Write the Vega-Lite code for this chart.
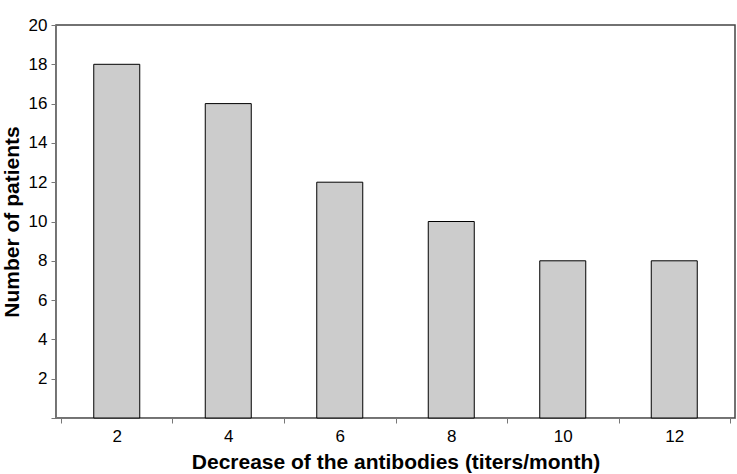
{
  "$schema": "https://vega.github.io/schema/vega-lite/v6.json",
  "width": 679,
  "height": 393,
  "autosize": {"type": "none"},
  "padding": {"left": 56, "top": 25, "right": 2, "bottom": 56},
  "background": "white",
  "config": {
    "font": "Liberation Sans",
    "view": {"stroke": "#444444", "strokeWidth": 1.5}
  },
  "data": {
    "values": [
      {"decrease": 2, "patients": 18},
      {"decrease": 4, "patients": 16},
      {"decrease": 6, "patients": 12},
      {"decrease": 8, "patients": 10},
      {"decrease": 10, "patients": 8},
      {"decrease": 12, "patients": 8}
    ]
  },
  "mark": {"type": "bar", "size": 46, "fill": "#cccccc", "stroke": "#000000", "strokeWidth": 1},
  "encoding": {
    "x": {
      "field": "decrease",
      "type": "quantitative",
      "scale": {"domain": [1, 13], "nice": false, "zero": false},
      "axis": {
        "values": [1, 2, 3, 4, 5, 6, 7, 8, 9, 10, 11, 12, 13],
        "labelExpr": "datum.value % 2 == 0 ? datum.label : ''",
        "tickOpacity": {"condition": {"test": "datum.value % 2 == 0", "value": 0}, "value": 1},
        "grid": false,
        "domainColor": "#777777",
        "tickColor": "#777777",
        "tickSize": 5,
        "labelFontSize": 17,
        "labelColor": "#000000",
        "labelPadding": 5,
        "labelFlush": false,
        "labelOverlap": false,
        "title": "Decrease of the antibodies (titers/month)",
        "titleFontSize": 21,
        "titleFontWeight": "bold",
        "titleColor": "#000000",
        "titlePadding": 7
      }
    },
    "y": {
      "field": "patients",
      "type": "quantitative",
      "scale": {"domain": [0, 20], "nice": false},
      "axis": {
        "values": [0, 2, 4, 6, 8, 10, 12, 14, 16, 18, 20],
        "labelExpr": "datum.value == 0 ? '' : datum.label",
        "grid": false,
        "domainColor": "#777777",
        "tickColor": "#777777",
        "tickSize": 5,
        "labelFontSize": 17,
        "labelColor": "#000000",
        "labelPadding": 4,
        "title": "Number of patients",
        "titleFontSize": 21,
        "titleFontWeight": "bold",
        "titleColor": "#000000",
        "titlePadding": 6
      }
    }
  }
}
